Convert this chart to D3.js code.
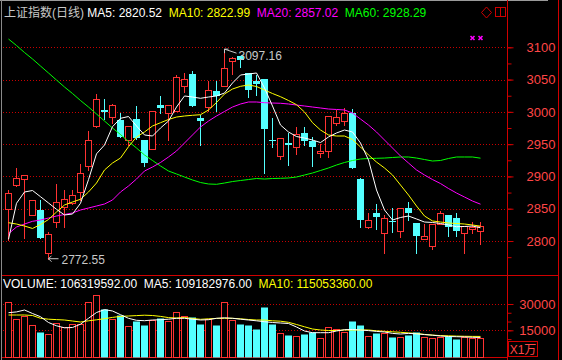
<!DOCTYPE html>
<html>
<head>
<meta charset="utf-8">
<title></title>
<style>
  body { margin: 0; background: #000; }
  text { font-family: "Liberation Sans", Arial, "Noto Sans CJK SC", sans-serif; }
</style>
</head>
<body>
<script src="https://d3js.org/d3.v7.min.js"></script>
<script>
// daily candles, index 0 = oldest shown
var open  = [2849, 2886.7, 2896, 2840, 2848, 2781, 2830, 2852, 2859, 2875.4,
             2916, 2978, 3003, 2991.6, 2987.4, 2956.4, 2988.5, 2956.4, 2942, 3010.6,
             2997.7, 3001.3, 3040, 3058.6, 2990, 3007, 3032.3, 3040.5, 3079.2, 3086.5,
             3059.7, 3048.3, 3051, 2956.4, 2932, 2951.3, 2945, 2966.8, 2955.3, 2935.8,
             2939.8, 2983.2, 2986.3, 2998.7, 2896, 2822, 2843.8, 2812, 2831, 2816,
             2850.6, 2827.4, 2802.6, 2792.3, 2826.3, 2840, 2835, 2812.9, 2818, 2815];
var high  = [2879, 2912.6, 2902, 2863.5, 2863.5, 2814.4, 2889, 2879, 2879, 2918.8,
             2970, 3027.6, 3019.5, 3012, 2997.7, 2978.6, 3009, 2956.4, 3001.3, 3024.6,
             3010, 3057, 3059.7, 3062.8, 2995, 3048.3, 3047.8, 3097.16, 3085.4, 3086.5,
             3060.5, 3057, 3051, 2990, 2960, 2966.8, 2976, 2976, 2960.6, 2949.8,
             2993.6, 3002.9, 3005.5, 3004, 2898, 2843.8, 2857.3, 2840, 2850.6, 2850.6,
             2860.9, 2827.4, 2826.3, 2826.3, 2846.5, 2840, 2843, 2823.2, 2830, 2830];
var low   = [2801.5, 2885, 2804.6, 2840, 2805, 2772.55, 2821.7, 2821, 2857, 2863.5,
             2910, 2976, 2988.5, 2982, 2961.5, 2948.7, 2958, 2916, 2942, 2997.7,
             2956.4, 3001.3, 3031.2, 3009, 2948.7, 3001.8, 3001.8, 3040.5, 3058.2, 3069,
             3023.5, 3026, 2905.8, 2945, 2927, 2917.7, 2934.7, 2948.7, 2916, 2930.5,
             2930.5, 2979.7, 2979.7, 2913.5, 2822, 2820, 2819, 2782, 2814.4, 2805.7,
             2832.5, 2782, 2802.6, 2787, 2826.3, 2808.2, 2808, 2782, 2812, 2795];
var close = [2874, 2897, 2902, 2863.5, 2805, 2810.4, 2860, 2864.6, 2870.8, 2904.8,
             2956.4, 3019.5, 3000.3, 3010, 2961.5, 2978.6, 2959, 2921.3, 3001.3, 3005.5,
             3010, 3053.5, 3050.4, 3009, 2986.3, 3033.9, 3024.6, 3067.5, 3083, 3080.3,
             3033.9, 3043, 2973.5, 2955, 2960, 2948.7, 2965.7, 2955.3, 2946, 2939.4,
             2993.6, 2991.6, 2997.7, 2913.5, 2832.5, 2832.5, 2837.6, 2835, 2829, 2850.6,
             2843.8, 2807.7, 2807.7, 2826.3, 2843, 2821.2, 2816, 2823.2, 2821.2, 2823.2];

// moving averages as drawn (they start before the visible window)
var ma5  = [2802.6, 2858.4, 2875.9, 2878.2, 2868.6, 2858.9, 2849.1, 2840.3, 2841.8, 2858.4,
            2895, 2935, 2948.7, 2977, 2990, 2992.8, 2978.1, 2964.2, 2962.6, 2975,
            2985.8, 3007.5, 3024.6, 3023, 3021, 3023, 3024.6, 3029.2, 3044.7, 3057.1,
            3058.6, 3060.2, 3037, 3009.1, 2979.6, 2968.8, 2961.8, 2959.5, 2956.4, 2952.5,
            2961.1, 2967.3, 2971.9, 2968.8, 2951.8, 2925.4, 2879, 2848, 2832.5, 2836.4,
            2838.7, 2834.1, 2829.4, 2828.7, 2827.1, 2824.8, 2822.1, 2822.5, 2823.2, 2820.52];
var ma10 = [2828.3, 2826.3, 2823.2, 2819.4, 2825.6, 2833.3, 2844.9, 2855.8, 2860.4, 2864.6,
            2875.9, 2889.8, 2910, 2920.8, 2928.5, 2946, 2961.1, 2968.8, 2978.1, 2983.2,
            2988.2, 2992, 2993.6, 2994.7, 2995.6, 3002.9, 3014.5, 3027.7, 3035.4, 3039.6,
            3041.6, 3039.3, 3033.9, 3028.4, 3023.5, 3017.6, 3011.1, 2999.8, 2983.2, 2971.9,
            2964.2, 2962.6, 2962.6, 2957.2, 2945.6, 2933.2, 2922.3, 2913.1, 2902.2, 2886.7,
            2871.2, 2854.2, 2838.7, 2831, 2829.4, 2827.9, 2827.1, 2826.3, 2824.8, 2822.99];
var ma20 = [2811.3, 2821.7, 2826.3, 2830.5, 2832.5, 2835.6, 2838.7, 2841, 2843.4, 2848,
            2851.1, 2854.2, 2857.3, 2863.5, 2875.9, 2885.2, 2896, 2908.4, 2914.6, 2921.6,
            2930.1, 2939.4, 2951.8, 2964.2, 2976.6, 2985.8, 2993.6, 3000.6, 3007.5, 3012.2,
            3015.3, 3015.3, 3014.2, 3013.7, 3013.3, 3012.2, 3010.6, 3009.1, 3007.5, 3006,
            3004.4, 3003.7, 3002.9, 2998.2, 2988.9, 2979.6, 2968.8, 2956.4, 2944, 2931.6,
            2920.8, 2910, 2902.2, 2895.2, 2889, 2881.3, 2874.3, 2868.1, 2861.9, 2857.02];
var ma60 = [3112.8, 3102.8, 3091.9, 3081.9, 3071, 3060.2, 3049.3, 3038.5, 3028.4, 3017.6,
            3007.5, 2996.7, 2985.8, 2975, 2964.9, 2954.1, 2944, 2933.2, 2924.7, 2916.2,
            2908.4, 2903.8, 2899.1, 2894.5, 2890.6, 2888.3, 2887.8, 2889.8, 2892.1, 2893.7,
            2895.2, 2896.8, 2896, 2896.8, 2897.1, 2897.6, 2899.1, 2902.2, 2905.3, 2909.2,
            2913.1, 2917.7, 2921.6, 2924.7, 2927, 2927.8, 2928.1, 2928.5, 2929.3, 2930.1,
            2930.1, 2928.5, 2926.2, 2923.9, 2924.7, 2927.8, 2930.1, 2930.1, 2930.1, 2928.29];

// volume in units of 10,000 (X1万)
var volume = [30970, 21270, 23150, 18020, 14200, 12890, 19330, 16710, 18590, 18590,
              30970, 35130, 26970, 21270, 23720, 17450, 20470, 18020, 20870, 21840,
              20470, 25260, 23150, 22750, 18590, 21440, 18020, 30970, 20870, 18590,
              18020, 15740, 28460, 18590, 13630, 12320, 11750, 12890, 14200, 10440,
              16710, 15570, 14200, 20300, 18020, 11750, 13630, 13630, 11350, 11350,
              12320, 14200, 11350, 10780, 11350, 11750, 10040, 11010, 10610, 10632];
var volMa5  = [25040, 25490, 26580, 24580, 22750, 19450, 17570, 16420, 16600, 18480,
               21840, 25150, 26800, 26010, 23900, 21840, 20700, 20470, 20870, 21040,
               21330, 21840, 21840, 21330, 20870, 21040, 21840, 22130, 21840, 21330,
               20870, 20420, 19900, 19450, 19160, 18880, 16880, 14600, 13630, 13630,
               13630, 14600, 15340, 15460, 15170, 14830, 14370, 14030, 13230, 12890,
               13230, 13000, 12550, 12200, 11750, 11460, 11350, 11230, 11010, 10918];
var volMa10 = [23720, 23720, 23720, 23440, 21840, 21330, 21100, 20870, 20300, 19730,
               20420, 20990, 21610, 22360, 22930, 23150, 23380, 23610, 23440, 22930,
               22240, 22010, 22300, 21730, 21270, 21560, 21790, 21840, 21840, 21560,
               21160, 20870, 20870, 20420, 20190, 19560, 18310, 17000, 15740, 15170,
               14880, 14880, 15170, 15170, 15170, 15170, 14710, 14430, 14140, 13860,
               13520, 13170, 12660, 12260, 11980, 11860, 11690, 11580, 11520, 11505];

var priceTicks = [2800, 2850, 2900, 2950, 3000, 3050, 3100];
var priceMinor = d3.range(2775, 3101, 25);
var volTicks = [15000, 30000];
var volMinor = [10000, 15000, 20000, 25000, 30000];

var header = [
    {t: "上证指数(日线) ", c: "#c8c8c8"},
    {t: "MA5: 2820.52  ", c: "#ffffff"},
    {t: "MA10: 2822.99  ", c: "#ffff00"},
    {t: "MA20: 2857.02  ", c: "#ff00ff"},
    {t: "MA60: 2928.29", c: "#00ff00"}
];
var volHeader = [
    {t: "VOLUME: 106319592.00  ", c: "#ffffff"},
    {t: "MA5: 109182976.00  ", c: "#ffffff"},
    {t: "MA10: 115053360.00", c: "#ffff00"}
];

var W = 562, H = 360, axisX = 507.5, rightX = 558.5;
var upCol = "#ff3232", downCol = "#54ffff", gridCol = "#c80000", axisCol = "#d00000", lblCol = "#ff4646";

var svg = d3.select("body").append("svg")
    .attr("width", W).attr("height", H)
    .style("display", "block").style("background", "#000");

var x = d3.scaleBand().domain(d3.range(60)).range([4, 484])
    .paddingInner(0.25).paddingOuter(0.125);
var y = d3.scaleLinear().domain([2800, 3100]).range([241, 47.3]);
var yv = d3.scaleLinear().domain([0, 30000]).range([356.6, 304]);

function cx(i) { return Math.floor(x(i) + 3) + 0.5; }
function px(v) { return Math.round(v) + 0.5; }

// frame
svg.append("line").attr("x1", 0).attr("x2", 548).attr("y1", 0.5).attr("y2", 0.5).attr("stroke", "#9a9a9a");
svg.append("line").attr("x1", 1.5).attr("x2", 1.5).attr("y1", 0).attr("y2", H).attr("stroke", "#8a8a8a");
svg.append("line").attr("x1", axisX).attr("x2", axisX).attr("y1", 0).attr("y2", H).attr("stroke", axisCol);
svg.append("line").attr("x1", rightX).attr("x2", rightX).attr("y1", 0).attr("y2", H).attr("stroke", axisCol);
svg.append("line").attr("x1", 2).attr("x2", rightX).attr("y1", 275.5).attr("y2", 275.5).attr("stroke", axisCol);
svg.append("line").attr("x1", 2).attr("x2", axisX).attr("y1", 357.5).attr("y2", 357.5).attr("stroke", axisCol);

// dotted grid
svg.append("g").selectAll("line").data(priceTicks).join("line")
    .attr("x1", 3).attr("x2", axisX).attr("y1", d => px(y(d))).attr("y2", d => px(y(d)))
    .attr("stroke", gridCol).attr("stroke-dasharray", "1,2");
svg.append("g").selectAll("line").data(volTicks).join("line")
    .attr("x1", 3).attr("x2", axisX).attr("y1", d => px(yv(d))).attr("y2", d => px(yv(d)))
    .attr("stroke", gridCol).attr("stroke-dasharray", "1,2");

// price + volume axes on the right
var ax1 = svg.append("g").attr("transform", "translate(" + axisX + ",0)")
    .call(d3.axisRight(y).tickValues(priceMinor).tickSize(4).tickSizeOuter(0).tickFormat(""));
var ax2 = svg.append("g").attr("transform", "translate(" + axisX + ",0)")
    .call(d3.axisRight(y).tickValues(priceTicks).tickSize(6).tickSizeOuter(0).tickFormat(d3.format("d")));
var ax3 = svg.append("g").attr("transform", "translate(" + axisX + ",0)")
    .call(d3.axisRight(yv).tickValues(volMinor).tickSize(4).tickSizeOuter(0).tickFormat(""));
var ax4 = svg.append("g").attr("transform", "translate(" + axisX + ",0)")
    .call(d3.axisRight(yv).tickValues(volTicks).tickSize(6).tickSizeOuter(0).tickFormat(d3.format("d")));
[ax1, ax2, ax3, ax4].forEach(function(a) {
    a.select(".domain").remove();
    a.selectAll("line").attr("stroke", axisCol);
    a.selectAll("text").attr("x", 48).attr("text-anchor", "end")
        .attr("fill", lblCol).style("font-size", "13px");
});

// candles
var candles = svg.append("g").selectAll("g").data(d3.range(60)).join("g");
candles.append("line")
    .attr("x1", cx).attr("x2", cx)
    .attr("y1", i => Math.round(y(high[i]))).attr("y2", i => Math.round(y(low[i])) + 1)
    .attr("stroke", i => close[i] >= open[i] ? upCol : downCol);
candles.append("rect")
    .attr("x", i => close[i] >= open[i] ? x(i) + 0.5 : x(i))
    .attr("y", i => close[i] >= open[i] ? px(y(close[i])) : Math.round(y(open[i])))
    .attr("width", i => close[i] >= open[i] ? 6 : 7)
    .attr("height", i => Math.max(1, Math.abs(Math.round(y(open[i])) - Math.round(y(close[i])))))
    .attr("fill", i => close[i] >= open[i] ? "#000" : downCol)
    .attr("stroke", i => close[i] >= open[i] ? upCol : "none");

// moving average lines
var maLine = d3.line().x((d, i) => x(i) + 3.5).y(d => y(d));
[[ma60, "#00ff00"], [ma20, "#ff00ff"], [ma10, "#ffff00"], [ma5, "#ffffff"]].forEach(function(m) {
    svg.append("path").datum(m[0]).attr("d", maLine)
        .attr("fill", "none").attr("stroke", m[1]).attr("stroke-width", 1);
});

// volume bars
svg.append("g").selectAll("rect").data(d3.range(60)).join("rect")
    .attr("x", i => close[i] >= open[i] ? x(i) + 0.5 : x(i))
    .attr("y", i => px(yv(volume[i])))
    .attr("width", i => close[i] >= open[i] ? 6 : 7)
    .attr("height", i => Math.round(yv(0)) - Math.round(yv(volume[i])))
    .attr("fill", i => close[i] >= open[i] ? "#000" : downCol)
    .attr("stroke", i => close[i] >= open[i] ? upCol : "none");

var volLine = d3.line().x((d, i) => x(i) + 3.5).y(d => yv(d));
[[volMa10, "#ffff00"], [volMa5, "#ffffff"]].forEach(function(m) {
    svg.append("path").datum(m[0]).attr("d", volLine)
        .attr("fill", "none").attr("stroke", m[1]).attr("stroke-width", 1);
});

// high / low markers
var hi = high.indexOf(d3.max(high)), lo = low.indexOf(d3.min(low));
var hx = x(hi) + 3.5, hy = y(high[hi]);
svg.append("path")
    .attr("d", "M" + (hx + 12) + "," + (hy + 4) + "L" + hx + "," + hy + "M" + (hx + 4) + "," + hy + "L" + hx + "," + hy + "L" + hx + "," + (hy + 4))
    .attr("stroke", "#c8c8c8").attr("fill", "none");
svg.append("text").attr("x", hx + 14).attr("y", hy + 11).text(d3.format(".2f")(high[hi]))
    .attr("fill", "#c8c8c8").style("font-size", "12px");
var lx = x(lo) + 3.5, ly = y(low[lo]);
svg.append("path")
    .attr("d", "M" + (lx + 10) + "," + ly + "L" + lx + "," + ly + "M" + (lx + 3) + "," + (ly - 3) + "L" + lx + "," + ly + "L" + (lx + 3) + "," + (ly + 3))
    .attr("stroke", "#c8c8c8").attr("fill", "none");
svg.append("text").attr("x", lx + 13).attr("y", ly + 5).text(d3.format(".2f")(low[lo]))
    .attr("fill", "#c8c8c8").style("font-size", "12px");

// headers
var h1 = svg.append("text").attr("x", 4).attr("y", 17).style("font-size", "12px").attr("xml:space", "preserve");
header.forEach(function(h) { h1.append("tspan").attr("fill", h.c).text(h.t); });
var h2 = svg.append("text").attr("x", 3).attr("y", 288).style("font-size", "12px").attr("xml:space", "preserve");
volHeader.forEach(function(h) { h2.append("tspan").attr("fill", h.c).text(h.t); });

// corner icons
svg.append("path").attr("d", "M486.5,7L491.5,12.5L486.5,18L481.5,12.5Z").attr("fill", "none").attr("stroke", "#d00000");
svg.append("rect").attr("x", 495.5).attr("y", 7.5).attr("width", 10).attr("height", 9).attr("fill", "none").attr("stroke", "#d00000");
svg.append("line").attr("x1", 500.5).attr("x2", 500.5).attr("y1", 7.5).attr("y2", 16.5).attr("stroke", "#d00000");
[472.5, 480.5].forEach(function(mx) {
    svg.append("path").attr("d", "M" + (mx - 2) + ",36L" + (mx + 2) + ",40M" + (mx + 2) + ",36L" + (mx - 2) + ",40")
        .attr("stroke", "#ff00ff").attr("stroke-width", 1.6);
});

// unit box
svg.append("rect").attr("x", 508.5).attr("y", 341.5).attr("width", 29).attr("height", 15)
    .attr("fill", "none").attr("stroke", axisCol);
svg.append("text").attr("x", 523).attr("y", 354).attr("text-anchor", "middle")
    .text("X1万").attr("fill", lblCol).style("font-size", "12px");
</script>
</body>
</html>
